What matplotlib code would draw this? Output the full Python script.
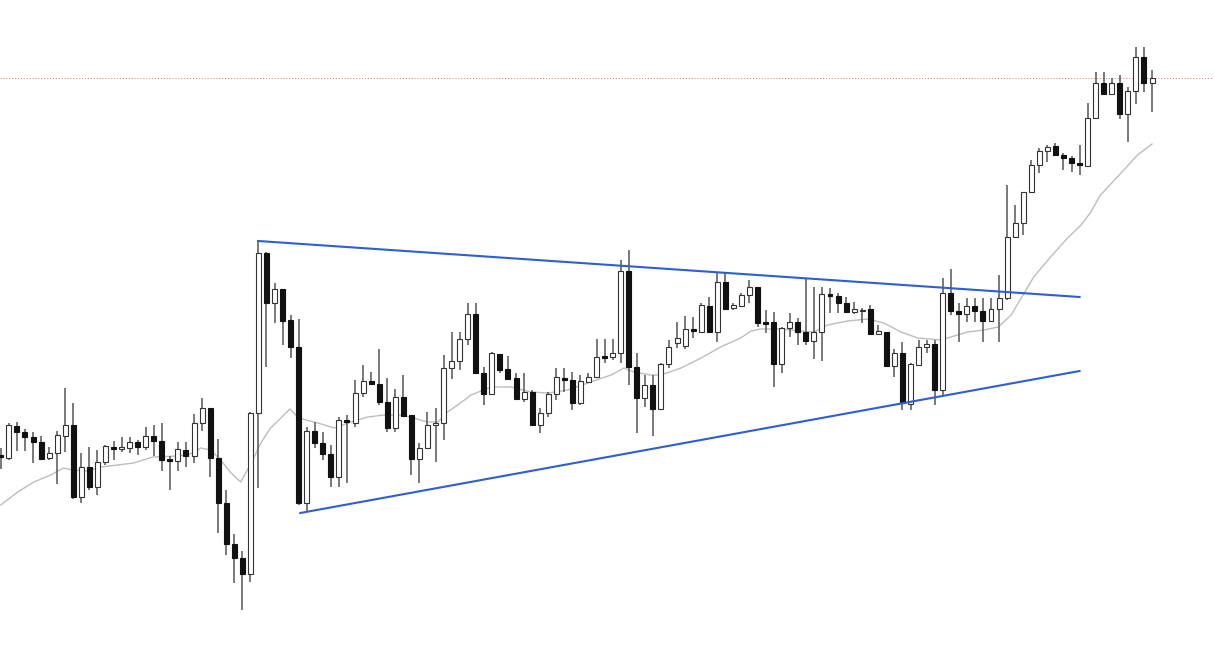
import numpy as np
import matplotlib
matplotlib.use("Agg")
import matplotlib.pyplot as plt

# --- Data (chart units: 0 = bottom of chart, 671 = top) ---
TOP = 671

# levels read top-down from the chart, converted below
open_lvl = [455, 458, 426, 432, 437, 442, 458, 453, 436, 425,
            497, 467, 487, 462, 447, 449, 448, 442, 447, 436,
            441, 459, 461, 450, 456, 423, 408, 458, 503, 544,
            558, 574, 413, 253, 303, 289, 320, 347, 503, 431,
            443, 454, 477, 420, 423, 393, 381, 384, 402, 428,
            397, 415, 459, 448, 425, 423, 368, 361, 339, 314,
            373, 394, 354, 369, 378, 399, 392, 425, 413, 394,
            378, 380, 403, 382, 377, 356, 357, 353, 271, 367,
            398, 385, 409, 364, 343, 346, 329, 332, 306, 332,
            282, 308, 306, 295, 287, 322, 322, 364, 328, 322,
            332, 341, 332, 294, 296, 303, 312, 311, 309, 334,
            332, 366, 353, 404, 365, 347, 344, 390, 293, 311,
            314, 306, 311, 321, 309, 298, 237, 223, 192, 165,
            151, 146, 155, 158, 163, 166, 118, 83, 94, 83,
            114, 91, 57, 83]
high_lvl = [448, 423, 422, 429, 432, 436, 447, 431, 388, 403,
            453, 447, 450, 445, 441, 437, 437, 440, 427, 425,
            423, 456, 442, 442, 414, 398, 408, 439, 490, 534,
            551, 412, 240, 252, 283, 289, 315, 319, 427, 422,
            432, 445, 417, 415, 380, 365, 372, 349, 378, 389,
            375, 415, 443, 412, 408, 355, 332, 332, 303, 303,
            367, 352, 354, 356, 373, 373, 390, 408, 392, 368,
            368, 372, 375, 373, 339, 339, 339, 260, 250, 353,
            375, 375, 363, 340, 322, 316, 317, 303, 297, 273,
            273, 303, 293, 280, 287, 310, 312, 327, 313, 318,
            278, 287, 287, 288, 293, 297, 302, 308, 305, 325,
            332, 349, 342, 363, 340, 340, 340, 278, 269, 303,
            298, 298, 298, 298, 275, 185, 205, 192, 160, 148,
            145, 143, 153, 156, 145, 103, 72, 72, 78, 75,
            87, 47, 47, 70]
low_lvl = [469, 460, 451, 451, 463, 460, 460, 484, 452, 499,
           503, 490, 495, 465, 460, 452, 453, 455, 450, 456,
           471, 490, 471, 467, 463, 431, 477, 533, 555, 583,
           610, 582, 488, 367, 323, 345, 358, 505, 512, 448,
           460, 487, 487, 483, 427, 397, 385, 405, 432, 432,
           417, 475, 483, 449, 462, 440, 379, 370, 345, 373,
           405, 395, 373, 380, 400, 402, 425, 433, 417, 400,
           392, 410, 405, 383, 378, 363, 360, 363, 385, 433,
           407, 436, 410, 368, 348, 349, 338, 333, 333, 342,
           310, 310, 307, 303, 327, 333, 387, 373, 337, 345,
           345, 359, 361, 313, 313, 313, 314, 323, 334, 335,
           367, 377, 410, 410, 366, 353, 405, 395, 315, 342,
           322, 322, 342, 322, 342, 300, 238, 235, 193, 173,
           162, 155, 170, 172, 175, 167, 118, 95, 95, 119,
           142, 104, 92, 112]
close_lvl = [457, 425, 432, 437, 442, 459, 453, 435, 425, 497,
             467, 487, 462, 446, 449, 447, 442, 447, 436, 441,
             460, 461, 449, 456, 423, 408, 458, 503, 544, 558,
             574, 413, 253, 303, 289, 321, 347, 503, 431, 443,
             454, 477, 420, 422, 393, 381, 384, 402, 428, 397,
             416, 459, 448, 425, 423, 368, 361, 339, 314, 373,
             394, 353, 370, 379, 399, 392, 425, 413, 394, 377,
             380, 403, 381, 377, 357, 358, 353, 271, 367, 398,
             385, 409, 364, 347, 338, 329, 331, 305, 332, 282,
             309, 305, 295, 287, 323, 324, 364, 328, 322, 332,
             341, 332, 294, 296, 303, 312, 309, 310, 334, 331,
             366, 353, 403, 364, 347, 344, 390, 293, 311, 314,
             306, 311, 321, 309, 298, 237, 223, 192, 165, 151,
             147, 155, 158, 163, 165, 118, 83, 94, 83, 114,
             91, 57, 83, 78]

# moving average (candle index, level)
ma_idx = [0, 2.1, 4.1, 6.2, 7.8, 8.9, 10.8, 12.4, 14.5, 16.5,
          18.9, 22, 24, 24.8, 26.1, 27.3, 28.6, 29.8, 31.1, 32.3,
          33.5, 34.8, 35.9, 36.9, 37.9, 39.4, 41.4, 43.5, 45.6, 47.6,
          49.7, 51.3, 53, 54.3, 55.5, 57.1, 58.4, 60.9, 63.4, 65.8,
          68, 70.4, 72.9, 75.8, 77.4, 78.6, 80.7, 82, 84.5, 87,
          89.4, 91.9, 93.2, 94.4, 96.9, 99.4, 101, 102.7, 105.2, 107.7,
          109.7, 111.8, 113.9, 116.8, 118, 120.1, 122.1, 123.9, 125.5, 128.3,
          130.4, 132.5, 134.2, 135.4, 136.6, 139.5, 141.2, 143]
ma_lvl = [505, 492, 482, 475, 468, 470, 471, 467, 465, 463,
          457, 456, 453, 448, 450, 460, 473, 482, 463, 443,
          428, 418, 409, 417, 420, 423, 428, 422, 417, 415,
          415, 418, 422, 422, 412, 403, 395, 387, 387, 392,
          393, 390, 383, 375, 368, 372, 375, 375, 368, 358,
          347, 338, 331, 329, 329, 331, 332, 325, 321, 319,
          323, 332, 338, 340, 337, 332, 330, 327, 315, 277,
          257, 238, 225, 212, 195, 170, 155, 144]

# trendlines (candle index, level)
upper_idx = [32, 134]
upper_lvl = [241, 297]
lower_idx = [37.2, 134]
lower_lvl = [513, 371]
ref_lvl = 78

# --- Convert to upward price units ---
o = TOP - np.array(open_lvl, dtype=float)
h = TOP - np.array(high_lvl, dtype=float)
l = TOP - np.array(low_lvl, dtype=float)
c = TOP - np.array(close_lvl, dtype=float)
x = np.arange(len(o))

fig = plt.figure(figsize=(12.14, 6.71), dpi=100)
ax = fig.add_axes([0, 0, 1, 1])
ax.set_xlim(-0.1, 150.7)
ax.set_ylim(0, TOP)
ax.axis('off')

# reference line
ax.axhline(TOP - ref_lvl, color='#e07070', lw=0.7, ls=(0, (1, 2)), zorder=0)

# moving average
ax.plot(ma_idx, TOP - np.array(ma_lvl), color='#bdbdbd', lw=1.0, zorder=1)

# wicks
ax.vlines(x, l, h, color='#555555', lw=1.1, zorder=2)

# bodies
up = c >= o
bottom = np.minimum(o, c)
height = np.maximum(np.abs(c - o), 1.2)
ax.bar(x[up], height[up], bottom=bottom[up], width=0.62,
       facecolor='white', edgecolor='#333333', linewidth=0.8, zorder=3)
ax.bar(x[~up], height[~up], bottom=bottom[~up], width=0.62,
       facecolor='#111111', edgecolor='#111111', linewidth=0.8, zorder=3)

# triangle trendlines
ax.plot(upper_idx, TOP - np.array(upper_lvl), color='#2d5fd3', lw=1.5, zorder=4)
ax.plot(lower_idx, TOP - np.array(lower_lvl), color='#2d5fd3', lw=1.5, zorder=4)

fig.savefig('out.png', dpi=100, facecolor='white')
